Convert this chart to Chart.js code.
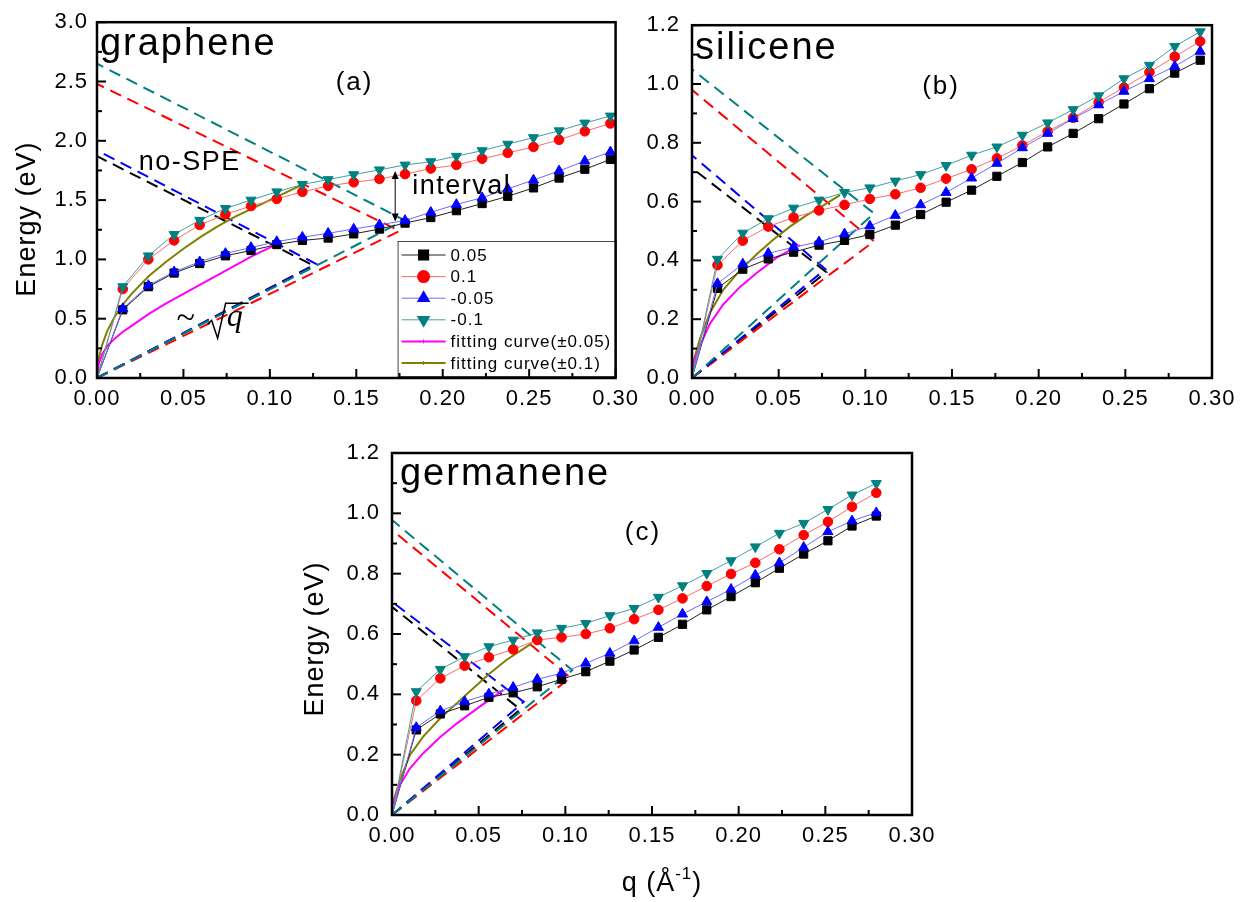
<!DOCTYPE html>
<html>
<head>
<meta charset="utf-8">
<script src="https://cdn.jsdelivr.net/npm/chart.js@4.4.1/dist/chart.umd.min.js"></script>
<style>
  body { margin: 0; background: #fff; width: 1255px; height: 902px; position: relative; overflow: hidden; }
  canvas { position: absolute; }
</style>
</head>
<body>
<canvas id="pa" width="645" height="420" style="left:0px;top:0px"></canvas>
<canvas id="pb" width="610" height="420" style="left:645px;top:0px"></canvas>
<canvas id="pc" width="680" height="482" style="left:290px;top:420px"></canvas>
<script>
// ---- graphene (a) ----
const qGraphene = [0, 0.0149, 0.0297, 0.0446, 0.0594, 0.0743, 0.0891, 0.1040, 0.1188, 0.1337, 0.1485,
  0.1634, 0.1782, 0.1931, 0.2079, 0.2228, 0.2376, 0.2525, 0.2673, 0.2822, 0.2970];
const graphene005 = [0, 0.575, 0.77, 0.885, 0.965, 1.03, 1.075, 1.125, 1.16, 1.18, 1.215,
  1.256, 1.306, 1.353, 1.411, 1.471, 1.532, 1.603, 1.686, 1.76, 1.843];
const graphene01 = [0, 0.75, 1.0, 1.16, 1.29, 1.38, 1.45, 1.51, 1.57, 1.62, 1.65,
  1.678, 1.719, 1.766, 1.796, 1.849, 1.898, 1.948, 2.008, 2.08, 2.146];
const grapheneM005 = [0, 0.585, 0.78, 0.895, 0.98, 1.05, 1.10, 1.15, 1.187, 1.22, 1.256,
  1.292, 1.328, 1.397, 1.463, 1.52, 1.595, 1.669, 1.746, 1.829, 1.906];
const grapheneM01 = [0, 0.77, 1.03, 1.21, 1.33, 1.43, 1.50, 1.57, 1.632, 1.673, 1.715,
  1.755, 1.796, 1.824, 1.87, 1.917, 1.972, 2.027, 2.085, 2.15, 2.209];
const grapheneFit005 = [[0, 0], [0.001, 0.12], [0.003, 0.2], [0.006, 0.27], [0.01, 0.33], [0.015, 0.39],
  [0.02, 0.44], [0.03, 0.54], [0.04, 0.63], [0.05, 0.71], [0.06, 0.79], [0.07, 0.87], [0.08, 0.95],
  [0.09, 1.03], [0.1, 1.10], [0.105, 1.14]];
const grapheneFit01 = [[0, 0], [0.001, 0.16], [0.003, 0.28], [0.006, 0.40], [0.01, 0.51], [0.015, 0.62],
  [0.02, 0.71], [0.03, 0.86], [0.04, 0.98], [0.05, 1.09], [0.06, 1.19], [0.07, 1.28], [0.08, 1.36],
  [0.09, 1.43], [0.1, 1.50], [0.11, 1.57], [0.119, 1.63]];
// SPE boundaries: from the origin up to the corner, then back to the energy axis
const grapheneSpe005 = [[0, 0], [0.125, 0.95], [0, 1.87]];
const grapheneSpe01 = [[0, 0], [0.175, 1.24], [0, 2.48]];
const grapheneSpeM005 = [[0, 0], [0.127, 0.96], [0, 1.92]];
const grapheneSpeM01 = [[0, 0], [0.178, 1.33], [0, 2.65]];

// ---- silicene (b) ----
const qSilicene = [0, 0.0147, 0.0293, 0.0440, 0.0586, 0.0733, 0.0880, 0.1026, 0.1173, 0.1319, 0.1466,
  0.1613, 0.1759, 0.1906, 0.2052, 0.2199, 0.2346, 0.2492, 0.2639, 0.2785, 0.2932];
const silicene005 = [0, 0.305, 0.37, 0.405, 0.428, 0.452, 0.468, 0.488, 0.52, 0.556, 0.598,
  0.639, 0.686, 0.733, 0.786, 0.832, 0.882, 0.932, 0.984, 1.037, 1.081];
const silicene01 = [0, 0.384, 0.467, 0.515, 0.546, 0.57, 0.589, 0.609, 0.625, 0.647, 0.678,
  0.71, 0.747, 0.791, 0.839, 0.885, 0.938, 0.988, 1.04, 1.093, 1.145];
const siliceneM005 = [0, 0.321, 0.388, 0.424, 0.445, 0.463, 0.49, 0.517, 0.553, 0.589, 0.631,
  0.68, 0.73, 0.783, 0.832, 0.882, 0.929, 0.975, 1.018, 1.06, 1.111];
const siliceneM01 = [0, 0.404, 0.493, 0.542, 0.578, 0.605, 0.631, 0.647, 0.67, 0.692, 0.723,
  0.758, 0.786, 0.826, 0.868, 0.913, 0.96, 1.018, 1.064, 1.128, 1.178];
const siliceneFit005 = [[0, 0], [0.001, 0.055], [0.0046, 0.11], [0.0104, 0.185], [0.018, 0.25],
  [0.0277, 0.31], [0.0373, 0.357], [0.049, 0.41], [0.0623, 0.452]];
const siliceneFit01 = [[0, 0], [0.001, 0.06], [0.0046, 0.134], [0.0104, 0.222], [0.018, 0.30],
  [0.0277, 0.366], [0.0373, 0.421], [0.047, 0.471], [0.0565, 0.515], [0.066, 0.553], [0.0758, 0.587],
  [0.0854, 0.622]];
const siliceneSpe005 = [[0, 0], [0.0775, 0.36], [0, 0.714]];
const siliceneSpe01 = [[0, 0], [0.105, 0.465], [0, 0.98]];
const siliceneSpeM005 = [[0, 0], [0.077, 0.37], [0, 0.758]];
const siliceneSpeM01 = [[0, 0], [0.105, 0.56], [0, 1.05]];

// ---- germanene (c) ----
const qGermanene = [0, 0.0140, 0.0279, 0.0419, 0.0559, 0.0699, 0.0838, 0.0978, 0.1118, 0.1257, 0.1397,
  0.1537, 0.1676, 0.1816, 0.1956, 0.2096, 0.2235, 0.2375, 0.2515, 0.2654, 0.2794];
const germanene005 = [0, 0.282, 0.335, 0.362, 0.39, 0.405, 0.425, 0.45, 0.475, 0.51, 0.547,
  0.589, 0.632, 0.68, 0.724, 0.77, 0.818, 0.865, 0.909, 0.958, 0.991];
const germanene01 = [0, 0.379, 0.453, 0.495, 0.523, 0.549, 0.58, 0.589, 0.6, 0.619, 0.649,
  0.68, 0.718, 0.759, 0.799, 0.836, 0.881, 0.928, 0.972, 1.022, 1.068];
const germaneneM005 = [0, 0.29, 0.345, 0.376, 0.401, 0.423, 0.45, 0.47, 0.503, 0.536, 0.577,
  0.622, 0.666, 0.707, 0.748, 0.795, 0.836, 0.887, 0.939, 0.975, 1.002];
const germaneneM01 = [0, 0.409, 0.483, 0.525, 0.558, 0.58, 0.604, 0.619, 0.635, 0.661, 0.685,
  0.722, 0.76, 0.801, 0.843, 0.889, 0.934, 0.967, 1.013, 1.061, 1.099];
const germaneneFit005 = [[0, 0], [0.001, 0.045], [0.0046, 0.10], [0.0104, 0.155], [0.018, 0.205],
  [0.0277, 0.258], [0.0373, 0.303], [0.0508, 0.36], [0.0642, 0.414]];
const germaneneFit01 = [[0, 0], [0.001, 0.05], [0.0046, 0.116], [0.0104, 0.199], [0.018, 0.26],
  [0.0277, 0.32], [0.0373, 0.37], [0.0469, 0.42], [0.0565, 0.47], [0.066, 0.514], [0.0806, 0.569]];
const germaneneSpe005 = [[0, 0], [0.074, 0.35], [0, 0.69]];
const germaneneSpe01 = [[0, 0], [0.103, 0.455], [0, 0.945]];
const germaneneSpeM005 = [[0, 0], [0.076, 0.375], [0, 0.707]];
const germaneneSpeM01 = [[0, 0], [0.104, 0.48], [0, 0.978]];

const xTicks = [0, 0.05, 0.1, 0.15, 0.2, 0.25, 0.3];

// styles of the four doping series + the two fits
const FAMILY = '"Liberation Sans", Arial, sans-serif';
const S005 = { label: '0.05', color: '#000000', line: '#202020', style: 'rect', rot: 0, r: 5.8, order: 4 };
const S01 = { label: '0.1', color: '#ff0000', line: '#ff6a6a', style: 'circle', rot: 0, r: 4.8, order: 3 };
const SM005 = { label: '-0.05', color: '#0000ff', line: '#6a6aff', style: 'triangle', rot: 0, r: 5.8, order: 2 };
const SM01 = { label: '-0.1', color: '#008080', line: '#40a0a0', style: 'triangle', rot: 180, r: 5.8, order: 1 };
const FIT005 = { label: 'fitting curve(\u00b10.05)', line: '#ff00ff' };
const FIT01 = { label: 'fitting curve(\u00b10.1)', line: '#808000' };

const toPts = (qs, es) => qs.map((q, i) => ({ x: q, y: es[i] }));
const pairPts = arr => arr.map(([q, e]) => ({ x: q, y: e }));

function markerSet(qs, es, s) {
  return {
    label: s.label, data: toPts(qs, es), showLine: true, order: s.order,
    borderColor: s.line, borderWidth: 1,
    pointStyle: s.style, pointRotation: s.rot,
    pointBackgroundColor: s.color, pointBorderColor: s.color, pointBorderWidth: 1,
    pointRadius: c => (c.dataIndex === 0 ? 0 : s.r), pointHoverRadius: 0
  };
}
function fitSet(arr, s, order) {
  return { label: s.label, data: pairPts(arr), showLine: true, order: order,
    borderColor: s.line, borderWidth: 2, pointRadius: 0 };
}
function speSet(arr, color, order) {
  return { data: pairPts(arr), showLine: true, order: order, borderColor: color,
    borderWidth: 2, borderDash: [12, 7], pointRadius: 0 };
}
function panelSets(q, a, b, c, d, f1, f2, e1, e2, e3, e4) {
  return [
    markerSet(q, a, S005), markerSet(q, b, S01), markerSet(q, c, SM005), markerSet(q, d, SM01),
    fitSet(f1, FIT005, 5), fitSet(f2, FIT01, 6),
    speSet(e1, '#000000', 13), speSet(e2, '#ff0000', 12), speSet(e3, '#0000ff', 11), speSet(e4, '#008080', 10)
  ];
}

// text and decorations per panel, keyed by canvas id
const DECOR = {
  pa: {
    texts: [
      { text: 'graphene', q: 0.0017, e: 2.727, font: '38px ' + FAMILY, sp: '2px' },
      { text: '(a)', q: 0.149, e: 2.49, font: '26px ' + FAMILY, sp: '2px', align: 'center', base: 'middle' },
      { text: 'no-SPE', q: 0.0537, e: 1.818, font: '27px ' + FAMILY, sp: '1.5px', align: 'center', base: 'middle' },
      { text: 'interval', q: 0.1824, e: 1.554, font: '27px ' + FAMILY, sp: '1.5px' }
    ],
    arrow: { q: 0.1725, e1: 1.746, e2: 1.32 },
    sqrtQ: { q: 0.064, e: 0.63 },
    legend: { w: 218, h: 135, first: 14, row: 21.6 },
    yTitle: { text: 'Energy (eV)', dx: -62, dy: 19 }
  },
  pb: {
    texts: [
      { text: 'silicene', q: 0.0017, e: 1.084, font: '38px ' + FAMILY, sp: '2px' },
      { text: '(b)', q: 0.1437, e: 0.991, font: '26px ' + FAMILY, sp: '2px', align: 'center', base: 'middle' }
    ]
  },
  pc: {
    texts: [
      { text: 'germanene', q: 0.0046, e: 1.094, font: '38px ' + FAMILY, sp: '2px' },
      { text: '(c)', q: 0.1448, e: 0.935, font: '26px ' + FAMILY, sp: '2px', align: 'center', base: 'middle' }
    ],
    yTitle: { text: 'Energy (eV)', dx: -69, dy: 5 },
    xTitle: { dx: 10, dy: 76 }
  }
};

function line(ctx, x1, y1, x2, y2) {
  ctx.beginPath(); ctx.moveTo(x1, y1); ctx.lineTo(x2, y2); ctx.stroke();
}
function marker(ctx, style, rot, r, x, y) {
  ctx.beginPath();
  if (style === 'rect') {
    const s = r * Math.SQRT1_2;
    ctx.rect(x - s, y - s, 2 * s, 2 * s);
  } else if (style === 'circle') {
    ctx.arc(x, y, r, 0, 2 * Math.PI);
  } else {
    const d = rot ? -1 : 1;
    ctx.moveTo(x, y - d * r);
    ctx.lineTo(x + r * 0.866, y + d * r / 2);
    ctx.lineTo(x - r * 0.866, y + d * r / 2);
    ctx.closePath();
  }
  ctx.fill();
}

function drawLegend(ctx, a, L) {
  const lx = a.right - L.w, ly = a.bottom - L.h - 2;
  ctx.fillStyle = '#fff';
  ctx.fillRect(lx, ly, L.w, L.h);
  ctx.strokeStyle = '#444'; ctx.lineWidth = 1;
  ctx.strokeRect(lx + 0.5, ly + 0.5, L.w, L.h);
  const rows = [S005, S01, SM005, SM01, FIT005, FIT01];
  rows.forEach((s, i) => {
    const cy = ly + L.first + i * L.row;
    ctx.strokeStyle = s.line;
    ctx.lineWidth = s.style ? 1 : 2;
    line(ctx, lx + 4, cy, lx + 48, cy);
    if (s.style) {
      ctx.fillStyle = s.color;
      marker(ctx, s.style, s.rot, s.r * 1.35, lx + 26, cy);
    } else {
      ctx.lineWidth = 1;
      line(ctx, lx + 26, cy - 2, lx + 26, cy + 2);
    }
    ctx.fillStyle = '#000';
    ctx.font = '17px ' + FAMILY; ctx.letterSpacing = '1px';
    ctx.textAlign = 'left'; ctx.textBaseline = 'middle';
    ctx.fillText(s.label, lx + 53, cy + 1);
  });
}

const decor = {
  id: 'decor',
  beforeDraw(chart) { chart.ctx.letterSpacing = '1px'; },
  afterDraw(chart) {
    const o = DECOR[chart.canvas.id];
    const { ctx, chartArea: a } = chart;
    const xs = chart.scales.x, ys = chart.scales.y;
    const px = q => xs.getPixelForValue(q), py = e => ys.getPixelForValue(e);
    ctx.save();
    if (o.legend) drawLegend(ctx, a, o.legend);

    // frame
    ctx.strokeStyle = '#000'; ctx.lineWidth = 2.5;
    ctx.strokeRect(a.left, a.top, a.right - a.left, a.bottom - a.top);

    // inward major / minor ticks
    ctx.lineWidth = 2;
    const xv = xs.ticks.map(t => t.value);
    xv.forEach((v, i) => {
      const p = px(v);
      line(ctx, p, a.bottom, p, a.bottom - 9);
      if (i < xv.length - 1) { const m = px((v + xv[i + 1]) / 2); line(ctx, m, a.bottom, m, a.bottom - 5); }
    });
    const yv = ys.ticks.map(t => t.value);
    yv.forEach((v, i) => {
      const p = py(v);
      line(ctx, a.left, p, a.left + 9, p);
      if (i < yv.length - 1) { const m = py((v + yv[i + 1]) / 2); line(ctx, a.left, m, a.left + 5, m); }
    });

    // labels inside the panel
    ctx.fillStyle = '#000';
    o.texts.forEach(t => {
      ctx.font = t.font; ctx.letterSpacing = t.sp || '0px';
      ctx.textAlign = t.align || 'left'; ctx.textBaseline = t.base || 'alphabetic';
      ctx.fillText(t.text, px(t.q), py(t.e));
    });

    if (o.arrow) {
      const x = px(o.arrow.q), y1 = py(o.arrow.e1), y2 = py(o.arrow.e2);
      ctx.strokeStyle = '#000'; ctx.lineWidth = 1;
      line(ctx, x, y1 + 3, x, y2 - 3);
      ctx.beginPath(); ctx.moveTo(x, y1); ctx.lineTo(x - 3.5, y1 + 8); ctx.lineTo(x + 3.5, y1 + 8); ctx.closePath(); ctx.fill();
      ctx.beginPath(); ctx.moveTo(x, y2); ctx.lineTo(x - 3.5, y2 - 8); ctx.lineTo(x + 3.5, y2 - 8); ctx.closePath(); ctx.fill();
    }

    if (o.sqrtQ) {
      const x0 = px(o.sqrtQ.q), y0 = py(o.sqrtQ.e);
      ctx.letterSpacing = '0px';
      ctx.font = '34px "Liberation Serif", serif';
      ctx.textAlign = 'center'; ctx.textBaseline = 'middle';
      ctx.fillText('~', x0 - 22, y0 + 16);
      ctx.strokeStyle = '#000'; ctx.lineWidth = 1.5;
      ctx.beginPath();
      ctx.moveTo(x0, y0 + 21); ctx.lineTo(x0 + 4, y0 + 17); ctx.lineTo(x0 + 10, y0 + 35);
      ctx.lineTo(x0 + 18, y0); ctx.lineTo(x0 + 41, y0);
      ctx.stroke();
      ctx.font = 'italic 32px "Liberation Serif", serif';
      ctx.textAlign = 'left'; ctx.textBaseline = 'alphabetic';
      ctx.fillText('q', x0 + 19, y0 + 23);
    }

    if (o.yTitle) {
      ctx.save();
      ctx.translate(a.left + o.yTitle.dx, (a.top + a.bottom) / 2 + o.yTitle.dy);
      ctx.rotate(-Math.PI / 2);
      ctx.font = '27px ' + FAMILY; ctx.letterSpacing = '1px';
      ctx.textAlign = 'center'; ctx.textBaseline = 'alphabetic';
      ctx.fillText(o.yTitle.text, 0, 0);
      ctx.restore();
    }

    if (o.xTitle) {
      const cx = (a.left + a.right) / 2 + o.xTitle.dx, by = a.bottom + o.xTitle.dy;
      ctx.letterSpacing = '1px';
      ctx.font = '27px ' + FAMILY;
      const w1 = ctx.measureText('q (\u00c5').width, w3 = ctx.measureText(')').width;
      ctx.font = '17px ' + FAMILY;
      const w2 = ctx.measureText('-1').width;
      let x = cx - (w1 + w2 + w3) / 2;
      ctx.textAlign = 'left'; ctx.textBaseline = 'alphabetic';
      ctx.font = '27px ' + FAMILY; ctx.fillText('q (\u00c5', x, by); x += w1;
      ctx.font = '17px ' + FAMILY; ctx.fillText('-1', x, by - 12); x += w2;
      ctx.font = '27px ' + FAMILY; ctx.fillText(')', x, by);
    }
    ctx.restore();
  }
};

function makeScales(yMax, yStep, yWidth, yPad, xHeight) {
  return {
    x: {
      type: 'linear', min: xTicks[0], max: xTicks[xTicks.length - 1],
      ticks: { stepSize: 0.05, padding: 8, color: '#000', autoSkip: false, maxRotation: 0,
        font: { family: FAMILY, size: 22 }, callback: v => v.toFixed(2) },
      grid: { display: false, drawTicks: false }, border: { display: false },
      afterFit: s => { s.height = xHeight; }
    },
    y: {
      type: 'linear', min: 0, max: yMax,
      ticks: { stepSize: yStep, padding: yPad, color: '#000', autoSkip: false,
        font: { family: FAMILY, size: 22 }, callback: v => v.toFixed(1) },
      grid: { display: false, drawTicks: false }, border: { display: false },
      afterFit: s => { s.width = yWidth; }
    }
  };
}

function makeChart(id, datasets, scales, padding) {
  return new Chart(document.getElementById(id), {
    type: 'scatter',
    data: { datasets: datasets },
    options: {
      responsive: false, animation: false,
      layout: { padding: padding },
      elements: { line: { tension: 0 } },
      plugins: { legend: { display: false }, tooltip: { enabled: false } },
      scales: scales
    },
    plugins: [decor]
  });
}

makeChart('pa',
  panelSets(qGraphene, graphene005, graphene01, grapheneM005, grapheneM01, grapheneFit005, grapheneFit01,
    grapheneSpe005, grapheneSpe01, grapheneSpeM005, grapheneSpeM01),
  makeScales(3, 0.5, 97, 9, 42), { top: 15, right: 28, left: 0, bottom: 0 });

makeChart('pb',
  panelSets(qSilicene, silicene005, silicene01, siliceneM005, siliceneM01, siliceneFit005, siliceneFit01,
    siliceneSpe005, siliceneSpe01, siliceneSpeM005, siliceneSpeM01),
  makeScales(1.2, 0.2, 47, 12, 42), { top: 15, right: 43, left: 0, bottom: 0 });

makeChart('pc',
  panelSets(qGermanene, germanene005, germanene01, germaneneM005, germaneneM01, germaneneFit005, germaneneFit01,
    germaneneSpe005, germaneneSpe01, germaneneSpeM005, germaneneSpeM01),
  makeScales(1.2, 0.2, 102, 12, 87), { top: 33, right: 58, left: 0, bottom: 0 });
</script>
</body>
</html>
